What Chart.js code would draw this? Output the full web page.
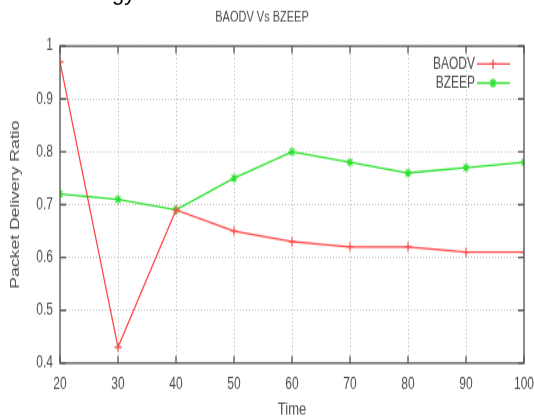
<!DOCTYPE html>
<html lang="en">
<head>
  <meta charset="UTF-8" />
  <title>BAODV Vs BZEEP</title>
  <script src="https://cdn.jsdelivr.net/npm/chart.js"></script>
  <style>
    body {
      margin: 0;
      background: #ffffff;
    }
    #wrap {
      position: relative;
      width: 534px;
      height: 420px;
      overflow: hidden;
    }
    /* the source picture is a stretched screenshot, so stretch the canvas the same way */
    #stretch {
      position: absolute;
      left: 0;
      top: 0;
      width: 534px;
      height: 311px;
      transform: scaleY(1.3505);
      transform-origin: 0 0;
      filter: blur(0.35px);
    }
    #caption {
      position: absolute;
      left: 112px;
      top: -20px;
      font-family: 'Liberation Sans', sans-serif;
      font-size: 22px;
      line-height: 25px;
      color: #000;
    }
  </style>
</head>
<body>
  <div id="wrap">
    <div id="stretch">
      <canvas id="pdrChart" width="534" height="311"></canvas>
    </div>
    <div id="caption">gy</div>
  </div>

  <script>
    const times = [20, 30, 40, 50, 60, 70, 80, 90, 100];
    const baodv = [0.97, 0.43, 0.69, 0.65, 0.63, 0.62, 0.62, 0.61, 0.61];
    const bzeep = [0.72, 0.71, 0.69, 0.75, 0.80, 0.78, 0.76, 0.77, 0.78];
    const seriesNames = ['BAODV', 'BZEEP'];
    const seriesColors = ['rgb(255, 70, 70)', 'rgb(45, 225, 45)'];
    const seriesMarkers = ['cross', 'star'];

    const textColor = '#4d4d4d';
    const fontFamily = "'Liberation Sans', Arial, sans-serif";

    // box, inside tick marks and the legend, gnuplot style
    const framePlugin = {
      id: 'frame',
      afterDraw(chart) {
        const { ctx, chartArea: a, scales: { x, y } } = chart;
        ctx.save();
        ctx.strokeStyle = '#555';
        ctx.lineWidth = 1.3;
        ctx.strokeRect(a.left, a.top, a.right - a.left, a.bottom - a.top);
        ctx.beginPath();
        x.ticks.forEach(t => {
          const px = x.getPixelForValue(t.value);
          ctx.moveTo(px, a.bottom); ctx.lineTo(px, a.bottom - 5.5);
          ctx.moveTo(px, a.top); ctx.lineTo(px, a.top + 5.5);
        });
        y.ticks.forEach(t => {
          const py = y.getPixelForValue(t.value);
          ctx.moveTo(a.left, py); ctx.lineTo(a.left + 6, py);
          ctx.moveTo(a.right, py); ctx.lineTo(a.right - 6, py);
        });
        ctx.stroke();

        ctx.font = '12px ' + fontFamily;
        ctx.textAlign = 'right';
        ctx.textBaseline = 'middle';
        seriesNames.forEach((name, i) => {
          const ly = a.top + 13.3 + i * 14.1;
          ctx.fillStyle = textColor;
          ctx.fillText(name, a.right - 49, ly + 0.5);
          ctx.strokeStyle = seriesColors[i];
          ctx.fillStyle = seriesColors[i];
          ctx.lineWidth = 1.3;
          ctx.beginPath();
          ctx.moveTo(a.right - 47, ly);
          ctx.lineTo(a.right - 14, ly);
          ctx.stroke();
          Chart.helpers.drawPoint(ctx, {
            pointStyle: seriesMarkers[i], radius: 3.5, borderWidth: 1.1, rotation: 0
          }, a.right - 31, ly);
        });
        ctx.restore();
      }
    };

    function lineSet(i, values) {
      return {
        label: seriesNames[i],
        data: times.map((t, k) => ({ x: t, y: values[k] })),
        borderColor: seriesColors[i],
        backgroundColor: seriesColors[i],
        borderWidth: 1.3,
        pointStyle: seriesMarkers[i],
        pointRadius: 3.5,
        pointBorderWidth: 1.1,
        tension: 0
      };
    }

    new Chart(document.getElementById('pdrChart'), {
      type: 'line',
      data: {
        datasets: [lineSet(0, baodv), lineSet(1, bzeep)]
      },
      options: {
        responsive: false,
        animation: false,
        layout: { padding: { left: 0, right: 10, top: 0, bottom: 0 } },
        plugins: {
          legend: { display: false },
          tooltip: { enabled: false },
          title: {
            display: true,
            text: 'BAODV Vs BZEEP',
            color: textColor,
            font: { family: fontFamily, size: 11, weight: 'normal' },
            padding: { top: 6.7, bottom: 14.2 }
          }
        },
        scales: {
          x: {
            type: 'linear',
            min: 20,
            max: 100,
            ticks: {
              stepSize: 10,
              color: textColor,
              padding: 8.5,
              maxRotation: 0,
              font: { family: fontFamily, size: 12 }
            },
            grid: { color: '#bdbdbd', drawTicks: false, lineWidth: 1 },
            border: { display: false, dash: [1, 2] },
            title: {
              display: true,
              text: 'Time',
              color: textColor,
              font: { family: fontFamily, size: 13 },
              padding: { top: 0, bottom: 0 }
            },
            afterFit(scale) {
              scale.height = 42.1;
              scale.paddingLeft = 0;
              scale.paddingRight = 0;
            }
          },
          y: {
            min: 0.4,
            max: 1,
            ticks: {
              stepSize: 0.1,
              color: textColor,
              padding: 7,
              font: { family: fontFamily, size: 12 },
              callback: v => Math.round(v * 10) / 10
            },
            grid: { color: '#bdbdbd', drawTicks: false, lineWidth: 1 },
            border: { display: false, dash: [1, 2] },
            title: {
              display: true,
              text: 'Packet Delivery Ratio',
              color: textColor,
              font: { family: fontFamily, size: 13 },
              padding: { top: 7.7, bottom: 0 }
            },
            afterFit(scale) {
              scale.width = 60;
              scale.paddingTop = 0;
              scale.paddingBottom = 0;
            }
          }
        }
      },
      plugins: [framePlugin]
    });
  </script>
</body>
</html>
